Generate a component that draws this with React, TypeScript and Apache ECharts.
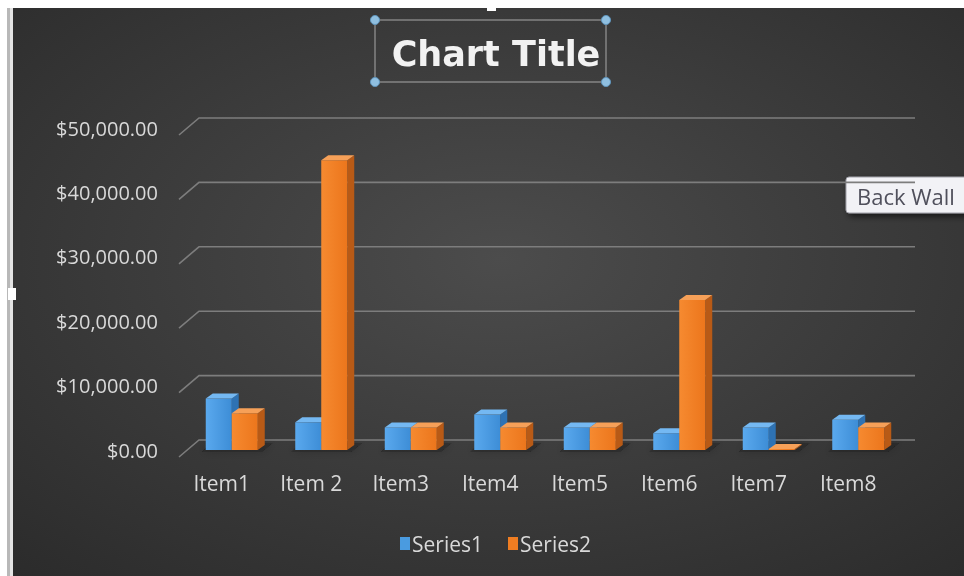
import React, { useEffect, useRef } from "react";
import * as echarts from "echarts";

const categories = ["Item1", "Item 2", "Item3", "Item4", "Item5", "Item6", "Item7", "Item8"];
const series1 = [8000, 4300, 3500, 5500, 3500, 2600, 3500, 4700];
const series2 = [5700, 45000, 3500, 3500, 3500, 23300, 100, 3500];
const yTicks = [0, 10000, 20000, 30000, 40000, 50000];

const BAR_W = 26;
const DX = 7;
const DY = 5;

function fmtMoney(v: number) {
  return "$" + v.toLocaleString("en-US", { minimumFractionDigits: 2, maximumFractionDigits: 2 });
}

function makeBarRender(side: number, front: any, top: string, right: string) {
  return (params: any, api: any) => {
    const i = api.value(0);
    const v = api.value(1);
    const b = api.coord([i, 0]);
    const t = api.coord([i, v]);
    const x = side === 0 ? b[0] - BAR_W : b[0];
    const y0 = b[1];
    const y1 = Math.min(t[1], y0 - 1);
    return {
      type: "group",
      children: [
        {
          type: "polygon",
          shape: { points: [[x + BAR_W, y1], [x + BAR_W + DX, y1 - DY], [x + BAR_W + DX, y0 - DY], [x + BAR_W, y0]] },
          style: { fill: right },
        },
        {
          type: "rect",
          shape: { x: x, y: y1, width: BAR_W, height: y0 - y1 },
          style: { fill: front },
        },
        {
          type: "polygon",
          shape: { points: [[x, y1], [x + DX, y1 - DY], [x + BAR_W + DX, y1 - DY], [x + BAR_W, y1]] },
          style: { fill: top },
        },
      ],
    };
  };
}

export default function App() {
  const ref = useRef<HTMLDivElement>(null);
  useEffect(() => {
    if (!ref.current) return;
    const chart = echarts.init(ref.current, null, { renderer: "svg" });
    const blueFront = new echarts.graphic.LinearGradient(0, 0, 1, 0, [
      { offset: 0, color: "#5aa9ee" },
      { offset: 1, color: "#3d8dd6" },
    ]);
    const orangeFront = new echarts.graphic.LinearGradient(0, 0, 1, 0, [
      { offset: 0, color: "#f68a30" },
      { offset: 1, color: "#ec761c" },
    ]);
    const option: any = {
      animation: false,
      backgroundColor: {
        type: "radial",
        x: 0.52,
        y: 0.45,
        r: 0.75,
        colorStops: [
          { offset: 0, color: "#4c4c4c" },
          { offset: 1, color: "#2b2b2b" },
        ],
      },
      title: {
        text: "Chart Title",
        left: 491,
        textAlign: "center",
        top: 31,
        textStyle: {
          color: "#f2f2f2",
          fontFamily: "DejaVu Sans",
          fontWeight: "bold",
          fontSize: 35,
        },
      },
      legend: {
        data: ["Series1", "Series2"],
        left: 395,
        top: 528,
        icon: "rect",
        itemWidth: 10,
        itemHeight: 13,
        itemGap: 25,
        textStyle: { color: "#d9d9d9", fontSize: 21, fontFamily: "Open Sans", padding: [0, 0, 0, -3] },
      },
      grid: { left: 187, right: 61, top: 128, height: 322 },
      xAxis: {
        type: "category",
        data: categories,
        axisLine: { show: false },
        axisTick: { show: false },
        splitLine: { show: false },
        axisLabel: {
          color: "#d9d9d9",
          fontSize: 21,
          fontFamily: "Open Sans",
          margin: 22,
          padding: [0, 20, 0, 0],
        },
      },
      yAxis: {
        type: "value",
        min: 0,
        max: 50000,
        interval: 10000,
        axisLine: { show: false },
        axisTick: { show: false },
        splitLine: { show: false },
        axisLabel: {
          color: "#d9d9d9",
          fontSize: 20,
          fontFamily: "Open Sans",
          margin: 29,
          formatter: (v: number) => fmtMoney(v),
        },
      },
      series: [
        {
          name: "wall",
          type: "custom",
          silent: true,
          z: 1,
          data: yTicks.map((v) => [0, v]),
          renderItem: (params: any, api: any) => {
            const cs = params.coordSys;
            const y = api.coord([0, api.value(1)])[1];
            return {
              type: "polyline",
              shape: { points: [[cs.x - 8, y + 7], [cs.x + 12, y - 10], [cs.x + cs.width + 12, y - 10]] },
              style: { stroke: "#7d7d7d", lineWidth: 1.6, fill: null },
            };
          },
        },
        {
          name: "shadow",
          type: "custom",
          silent: true,
          z: 1,
          data: categories.map((_, i) => [i, 0]),
          renderItem: (params: any, api: any) => {
            const b = api.coord([api.value(0), 0]);
            const x = b[0] - BAR_W;
            const y = b[1];
            return {
              type: "polygon",
              shape: {
                points: [
                  [x - 4, y + 2],
                  [x + 2 * BAR_W + 4, y + 2],
                  [x + 2 * BAR_W + DX + 8, y - DY - 2],
                  [x + DX - 2, y - DY - 2],
                ],
              },
              style: { fill: "rgba(20,20,20,0.35)", shadowBlur: 8, shadowColor: "rgba(0,0,0,0.5)" },
            };
          },
        },
        {
          name: "Series1",
          type: "custom",
          z: 2,
          itemStyle: { color: "#4a9be0" },
          data: series1.map((v, i) => [i, v]),
          renderItem: makeBarRender(0, blueFront, "#74b8f2", "#2e72b3"),
        },
        {
          name: "Series2",
          type: "custom",
          z: 3,
          itemStyle: { color: "#ef7d22" },
          data: series2.map((v, i) => [i, v]),
          renderItem: makeBarRender(1, orangeFront, "#f6a058", "#b85a16"),
        },
      ],
      graphic: [
        { type: "rect", z: 100, shape: { x: 0, y: 0, width: 964, height: 8 }, style: { fill: "#ffffff" } },
        { type: "rect", z: 100, shape: { x: 0, y: 0, width: 7, height: 576 }, style: { fill: "#ffffff" } },
        { type: "rect", z: 100, shape: { x: 7, y: 8, width: 3, height: 568 }, style: { fill: "#b8b8b8" } },
        { type: "rect", z: 100, shape: { x: 10, y: 8, width: 3, height: 568 }, style: { fill: "#e4e4e4" } },
        { type: "rect", z: 100, shape: { x: 8, y: 288, width: 8, height: 12 }, style: { fill: "#ffffff" } },
        { type: "rect", z: 100, shape: { x: 487, y: 2, width: 9, height: 9 }, style: { fill: "#ffffff" } },
        {
          type: "rect",
          z: 50,
          shape: { x: 375, y: 20, width: 231, height: 62 },
          style: { fill: null, stroke: "#a8a8a8", lineWidth: 1 },
        },
        ...[
          [375, 20],
          [606, 20],
          [375, 82],
          [606, 82],
        ].map(([cx, cy]) => ({
          type: "circle",
          z: 51,
          shape: { cx, cy, r: 4.5 },
          style: { fill: "#8fbfe0", stroke: "#5f95bd", lineWidth: 1 },
        })),
        {
          type: "group",
          z: 60,
          children: [
            {
              type: "rect",
              shape: { x: 846, y: 177, width: 130, height: 36, r: 3 },
              style: {
                fill: "#f2f2f6",
                stroke: "#a0a0a8",
                lineWidth: 1,
                shadowBlur: 6,
                shadowOffsetX: 3,
                shadowOffsetY: 3,
                shadowColor: "rgba(0,0,0,0.6)",
              },
            },
            {
              type: "text",
              x: 857,
              y: 196,
              style: {
                text: "Back Wall",
                fill: "#50505c",
                fontSize: 22,
                fontFamily: "Open Sans",
                verticalAlign: "middle",
              },
            },
          ],
        },
      ],
    };
    chart.setOption(option);
    return () => chart.dispose();
  }, []);
  return (
    <div
      ref={ref}
      style={{ position: "fixed", left: 0, top: 0, width: 964, height: 576 }}
    />
  );
}
